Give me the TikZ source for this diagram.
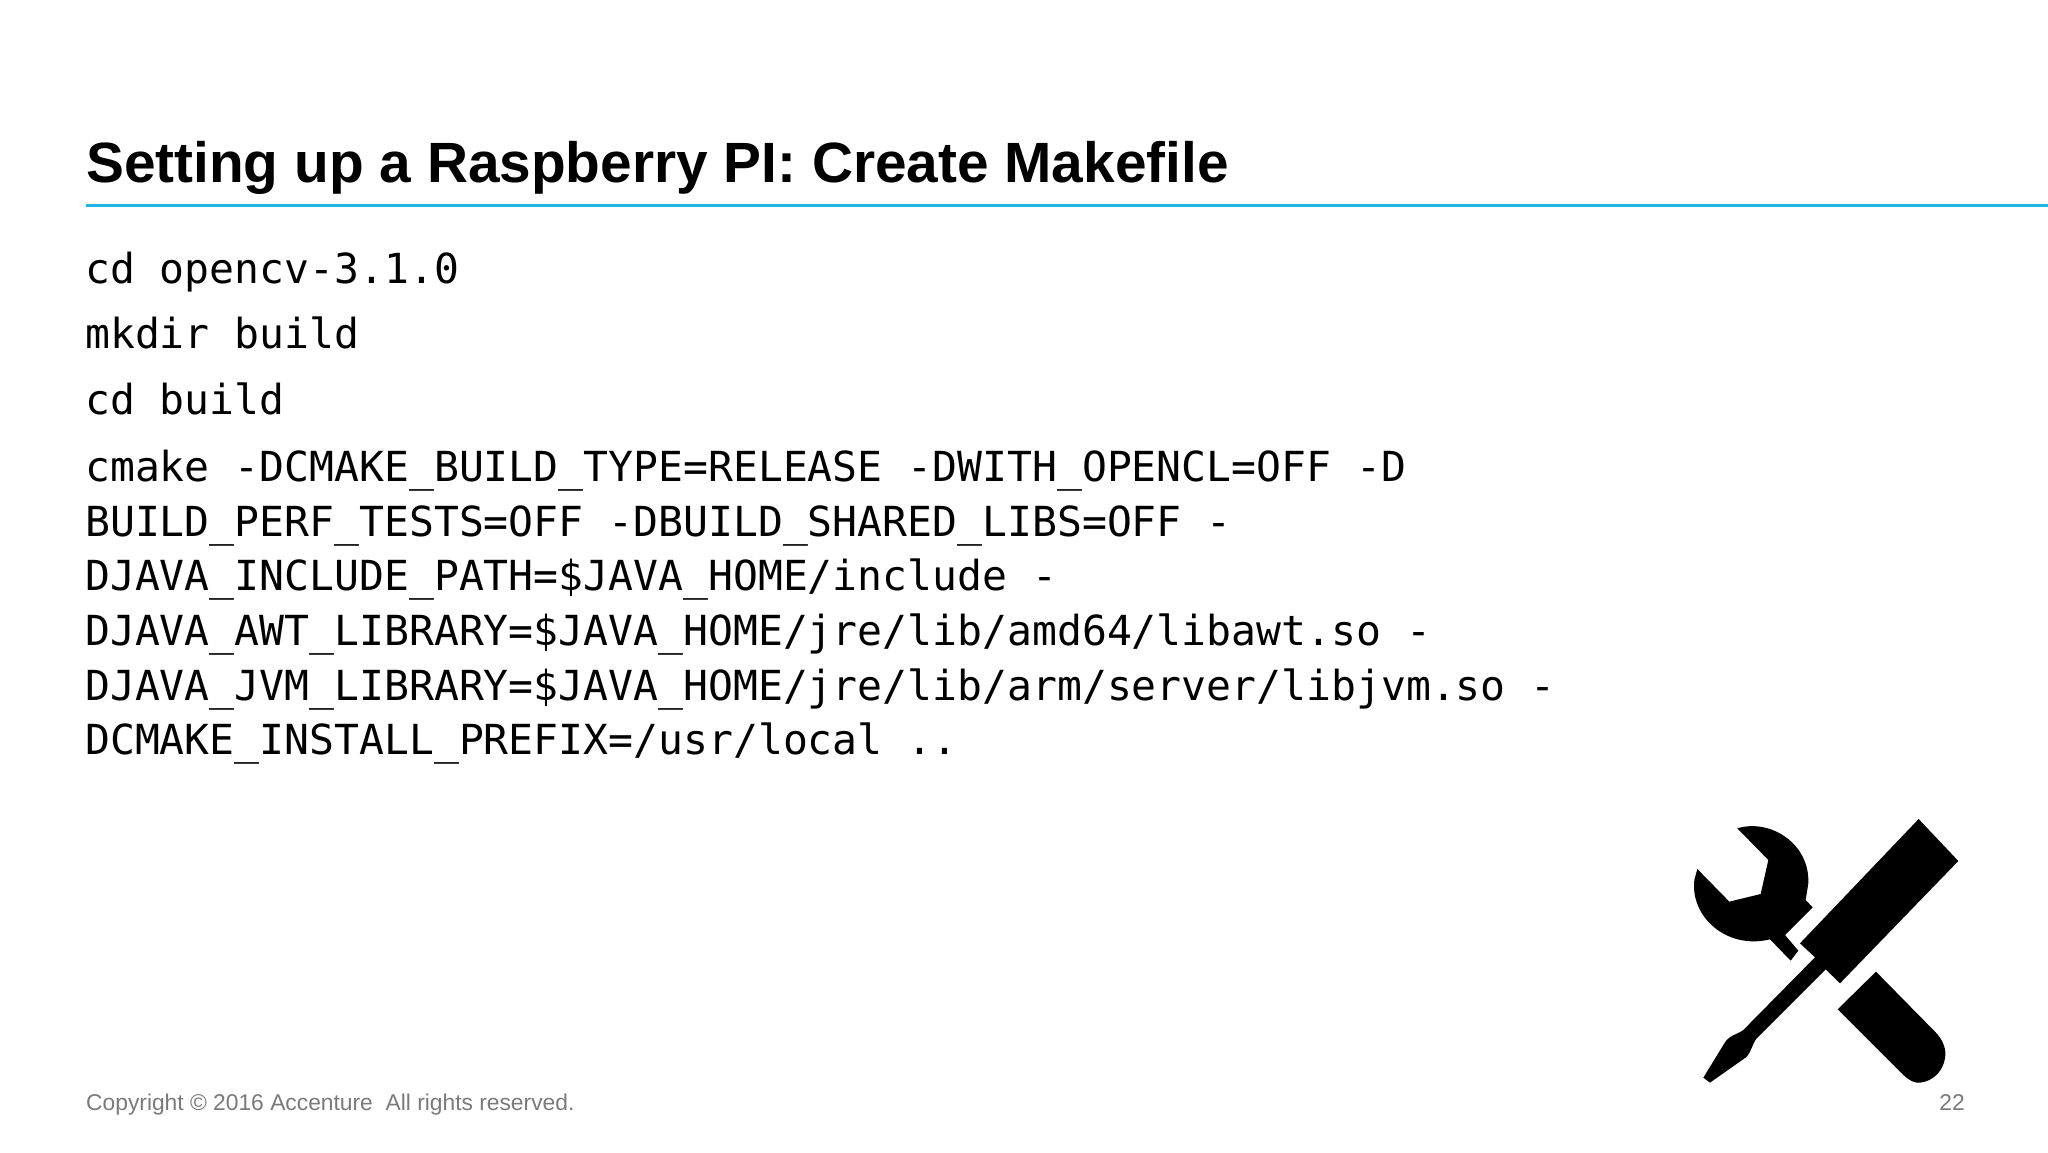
\documentclass[tikz,border=0pt]{standalone}
\usepackage{fontspec}
\setmainfont{Liberation Sans}
\newfontfamily\codefont{DejaVu Sans Mono}
\definecolor{rulecyan}{HTML}{1FB8E6}
\definecolor{footgray}{HTML}{7A7A7A}
\tikzset{
  titletext/.style={anchor=base west,inner sep=0pt,font=\fontsize{56.8}{60}\selectfont\bfseries,text=black},
  codetext/.style={anchor=base west,inner sep=0pt,font=\fontsize{41.4}{50}\codefont,text=black},
  foottext/.style={inner sep=0pt,font=\fontsize{22.8}{26}\selectfont,text=footgray},
  icon/.style={fill=black,draw=none}
}
\begin{document}
\begin{tikzpicture}[x=1pt,y=-1pt]
\useasboundingbox (0,0) rectangle (2048,1152);
\fill[white] (0,0) rectangle (2048,1152);
\node[titletext] (title) at (86,182) {Setting up a Raspberry PI: Create Makefile};
\coordinate (ruleL) at (86,205);
\coordinate (ruleR) at (2048,205);
\draw[rulecyan,line width=3pt] (ruleL) -- (ruleR);
\node[codetext] (c1) at (85,283) {cd opencv-3.1.0};
\node[codetext] (c2) at (85,348) {mkdir build};
\node[codetext] (c3) at (85,414) {cd build};
\node[codetext] (c4) at (85,481) {cmake -DCMAKE\_BUILD\_TYPE=RELEASE -DWITH\_OPENCL=OFF -D};
\node[codetext] (c5) at (85,536) {BUILD\_PERF\_TESTS=OFF -DBUILD\_SHARED\_LIBS=OFF -};
\node[codetext] (c6) at (85,590) {DJAVA\_INCLUDE\_PATH=\$JAVA\_HOME/include -};
\node[codetext] (c7) at (85,645) {DJAVA\_AWT\_LIBRARY=\$JAVA\_HOME/jre/lib/amd64/libawt.so -};
\node[codetext] (c8) at (85,700) {DJAVA\_JVM\_LIBRARY=\$JAVA\_HOME/jre/lib/arm/server/libjvm.so -};
\node[codetext] (c9) at (85,754) {DCMAKE\_INSTALL\_PREFIX=/usr/local ..};
\node[foottext,anchor=base west] (foot) at (86,1110) {Copyright © 2016 Accenture\ \ All rights reserved.};
\node[foottext,anchor=base east] (page) at (1965,1110) {22};
\begin{scope}[shift={(1660,800)},x=0.3333pt,y=-0.3333pt]
% wrench
\fill[icon] (232,85) .. controls (330,55) and (450,130) .. (445,250)
  -- (437,300) -- (458,322) -- (375,405) -- (415,452) -- (392,482) -- (330,418)
  .. controls (200,450) and (90,350) .. (103,240)
  -- (112,207) -- (208,305) -- (302,282) -- (325,180) -- cycle;
% screwdriver shaft
\fill[icon] (776,57) -- (895,183) -- (540,550) -- (497,508) -- (290,715)
  .. controls (275,735) and (275,755) .. (258,772)
  -- (150,848) -- (130,833) -- (190,735)
  .. controls (205,705) and (230,705) .. (250,690)
  -- (465,472) -- (420,430) -- cycle;
% handle
\fill[icon] (648,515) -- (825,695)
  .. controls (850,720) and (860,750) .. (855,775)
  .. controls (845,830) and (800,850) .. (770,848)
  .. controls (750,845) and (735,830) .. (720,815)
  -- (533,628) -- cycle;
\end{scope}
\end{tikzpicture}
\end{document}
